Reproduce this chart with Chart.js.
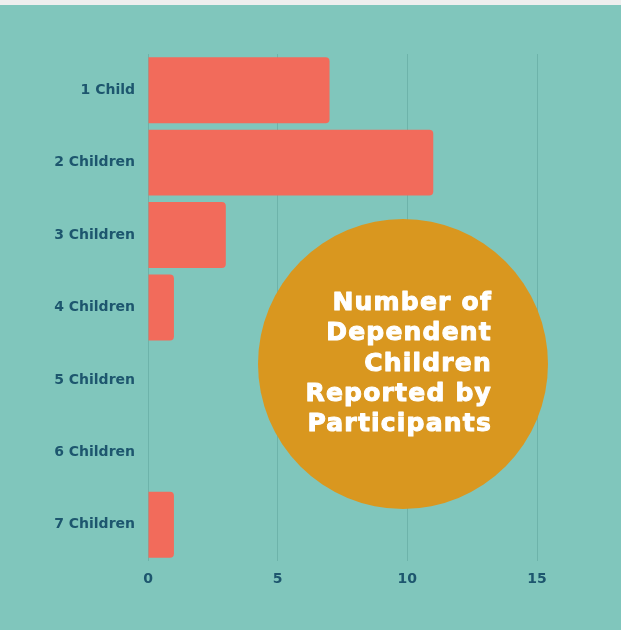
<!DOCTYPE html>
<html>
<head>
<meta charset="utf-8">
<script src="https://cdn.jsdelivr.net/npm/chart.js@4"></script>
<style>
  html, body { margin: 0; padding: 0; background: #eeeeee; }
  #wrap { position: absolute; left: 0; top: 5px; width: 621px; height: 625px; background: #80c6bc; }
</style>
</head>
<body>
<div id="wrap"><canvas id="myChart" width="621" height="625"></canvas></div>
<script>
var categories = ['1 Child', '2 Children', '3 Children', '4 Children', '5 Children', '6 Children', '7 Children'];
var counts = [7, 11, 3, 1, 0, 0, 1];
var titleLines = ['Number of', 'Dependent', 'Children', 'Reported by', 'Participants'];

var navy = '#1d566e';

// orange circle with the title, drawn on top of the grid
var circleTitle = {
    id: 'circleTitle',
    afterDraw: function(chart) {
        var ctx = chart.ctx;
        var area = chart.chartArea;
        var cx = area.left + 255;
        var cy = area.top + 310;
        ctx.save();
        ctx.beginPath();
        ctx.arc(cx, cy, 145, 0, Math.PI * 2);
        ctx.fillStyle = '#d9971f';
        ctx.fill();
        ctx.fillStyle = '#ffffff';
        ctx.strokeStyle = '#ffffff';
        ctx.lineWidth = 1;
        ctx.lineJoin = 'round';
        ctx.font = 'bold 25px "DejaVu Sans"';
        ctx.textAlign = 'right';
        ctx.textBaseline = 'alphabetic';
        if ('letterSpacing' in ctx) ctx.letterSpacing = '1.2px';
        for (var i = 0; i < titleLines.length; i++) {
            var y = area.top + 256 + i * 30.3;
            ctx.fillText(titleLines[i], cx + 89, y);
            ctx.strokeText(titleLines[i], cx + 89, y);
        }
        ctx.restore();
    }
};

var tickFont = { family: 'DejaVu Sans', weight: 'bold', size: 14 };

var ctx = document.getElementById('myChart').getContext('2d');
var myChart = new Chart(ctx, {
    type: 'bar',
    data: {
        labels: categories,
        datasets: [{
            data: counts,
            backgroundColor: '#f26b5b',
            borderRadius: 4,
            borderSkipped: 'start',
            categoryPercentage: 1,
            barPercentage: 0.91
        }]
    },
    options: {
        indexAxis: 'y',
        responsive: false,
        animation: false,
        layout: {
            padding: { left: 0, top: 49, right: 84, bottom: 0 }
        },
        plugins: {
            legend: { display: false },
            tooltip: { enabled: false }
        },
        scales: {
            x: {
                min: 0,
                max: 15,
                afterFit: function(scale) { scale.height = 69; },
                ticks: {
                    stepSize: 5,
                    padding: 10,
                    color: navy,
                    font: tickFont
                },
                grid: {
                    color: '#6db3aa',
                    lineWidth: 1,
                    drawTicks: false
                },
                border: { display: false }
            },
            y: {
                afterFit: function(scale) { scale.width = 148; },
                ticks: {
                    padding: 13,
                    color: navy,
                    font: tickFont
                },
                grid: { display: false, drawTicks: false },
                border: { display: false }
            }
        }
    },
    plugins: [circleTitle]
});
</script>
</body>
</html>
